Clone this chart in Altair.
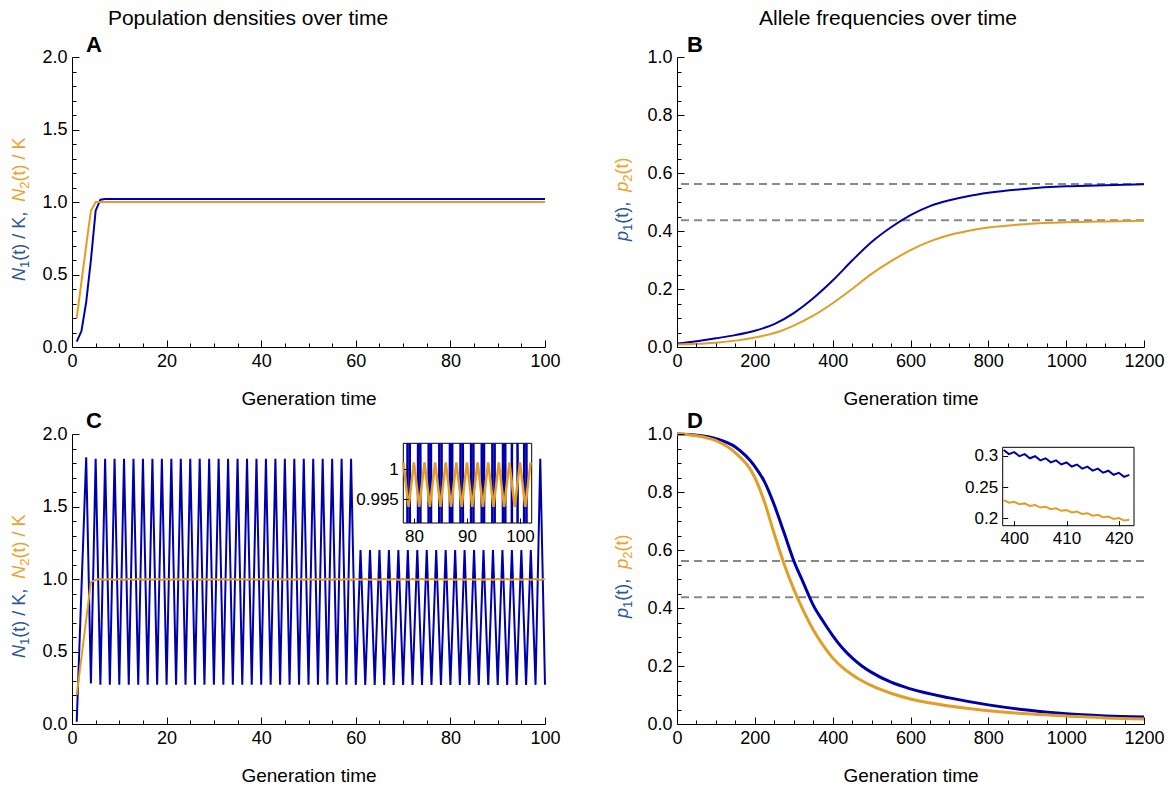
import altair as alt
import pandas as pd

FONT = "Liberation Sans"
BLUE = "#0000AA"
ORANGE = "#E39D25"
BLUE_TXT = "#2B5797"
ORANGE_TXT = "#F0A028"
GRAY = "#888888"

W_L, W_R, H = 473, 467, 290
LAB_FS = 18
AXT_FS = 19
COL_FS = 21
LET_FS = 22
YT_FS = 18

# ---------------- data ----------------
# Panel A: population densities (stable case)
a_t = list(range(1, 101))
a_n1 = [0.037, 0.11, 0.31, 0.6, 0.94, 1.016] + [1.02] * 94
a_n2 = [0.2, 0.45, 0.7, 0.94, 1.0] + [1.0] * 95

# Panel C: population densities (oscillating case)
c_t = list(range(1, 101))
c_n1 = [0.015, 0.93, 1.84, 0.28, 1.83, 0.27, 1.83, 0.27, 1.83, 0.27,
        1.83, 0.27, 1.83, 0.27, 1.83, 0.27, 1.83, 0.27, 1.83, 0.27,
        1.83, 0.27, 1.83, 0.27, 1.83, 0.27, 1.83, 0.27, 1.83, 0.27,
        1.83, 0.27, 1.83, 0.27, 1.83, 0.27, 1.83, 0.27, 1.83, 0.27,
        1.83, 0.27, 1.83, 0.27, 1.83, 0.27, 1.83, 0.27, 1.83, 0.27,
        1.83, 0.27, 1.83, 0.27, 1.83, 0.27, 1.83, 0.27, 1.83, 0.27,
        1.2, 0.27, 1.2, 0.27, 1.2, 0.27, 1.2, 0.27, 1.2, 0.27,
        1.2, 0.27, 1.2, 0.27, 1.2, 0.27, 1.2, 0.27, 1.2, 0.27,
        1.2, 0.27, 1.2, 0.27, 1.2, 0.27, 1.2, 0.27, 1.2, 0.27,
        1.2, 0.27, 1.2, 0.27, 1.2, 0.27, 1.2, 0.27, 1.83, 0.27]
c_n2 = [0.2, 0.46, 0.72, 0.98, 0.9937, 1.0011, 0.9937, 1.0011, 0.9937, 1.0011,
        0.9937, 1.0011, 0.9937, 1.0011, 0.9937, 1.0011, 0.9937, 1.0011, 0.9937, 1.0011,
        0.9937, 1.0011, 0.9937, 1.0011, 0.9937, 1.0011, 0.9937, 1.0011, 0.9937, 1.0011,
        0.9937, 1.0011, 0.9937, 1.0011, 0.9937, 1.0011, 0.9937, 1.0011, 0.9937, 1.0011,
        0.9937, 1.0011, 0.9937, 1.0011, 0.9937, 1.0011, 0.9937, 1.0011, 0.9937, 1.0011,
        0.9937, 1.0011, 0.9937, 1.0011, 0.9937, 1.0011, 0.9937, 1.0011, 0.9937, 1.0011,
        0.9937, 1.0011, 0.9937, 1.0011, 0.9937, 1.0011, 0.9937, 1.0011, 0.9937, 1.0011,
        0.9937, 1.0011, 0.9937, 1.0011, 0.9937, 1.0011, 0.9937, 1.0011, 0.9937, 1.0011,
        0.9937, 1.0011, 0.9937, 1.0011, 0.9937, 1.0011, 0.9937, 1.0011, 0.9937, 1.0011,
        0.9937, 1.0011, 0.9937, 1.0011, 0.9937, 1.0011, 0.9937, 1.0011, 0.9937, 1.0011]

# Inset of panel C
ci_t1 = list(range(77, 104))
ci_n1 = [1.2, 0.27, 1.2, 0.27, 1.2, 0.27, 1.2, 0.27, 1.2, 0.27,
         1.2, 0.27, 1.2, 0.27, 1.2, 0.27, 1.2, 0.27, 1.2, 0.27,
         1.2, 0.27, 1.83, 0.27, 1.2, 0.27, 1.2]
ci_t2 = list(range(78, 103))
ci_n2 = [1.0011, 0.9937, 1.0011, 0.9937, 1.0011, 0.9937, 1.0011, 0.9937, 1.0011, 0.9937,
         1.0011, 0.9937, 1.0011, 0.9937, 1.0011, 0.9937, 1.0011, 0.9937, 1.0011, 0.9937,
         1.0011, 0.9937, 1.0011, 0.9937, 1.0011]
ci_xdom = [78.0, 102.2]
ci_ydom = [0.991, 1.0043]

# Panel B: allele frequencies
b_t = [0, 50, 100, 150, 200, 250, 300, 350, 400, 450, 500, 550, 600, 650, 700,
       750, 800, 900, 1000, 1100, 1200]
b_p1 = [0.012, 0.02, 0.03, 0.041, 0.056, 0.079, 0.117, 0.168, 0.229, 0.298, 0.362,
        0.413, 0.455, 0.486, 0.506, 0.521, 0.532, 0.546, 0.554, 0.558, 0.561]
b_p2 = [0.009, 0.011, 0.015, 0.022, 0.033, 0.048, 0.074, 0.108, 0.151, 0.2, 0.252,
        0.296, 0.334, 0.364, 0.386, 0.401, 0.412, 0.424, 0.43, 0.433, 0.435]
eq_levels = [0.5625, 0.4375]

# Panel D: allele frequencies
d_t = [0, 50, 100, 150, 200, 225, 250, 275, 300, 325, 350, 375, 400, 425, 450, 475,
       500, 550, 600, 700, 800, 900, 1000, 1100, 1200]
d_p1 = [1.0, 0.996, 0.984, 0.955, 0.888, 0.835, 0.755, 0.66, 0.563, 0.486, 0.41,
        0.355, 0.305, 0.262, 0.228, 0.2, 0.178, 0.144, 0.121, 0.09, 0.066, 0.048,
        0.035, 0.028, 0.024]
d_p2 = [1.0, 0.994, 0.977, 0.935, 0.85, 0.765, 0.655, 0.553, 0.465, 0.39, 0.325,
        0.272, 0.228, 0.195, 0.17, 0.149, 0.132, 0.106, 0.086, 0.062, 0.046, 0.035,
        0.028, 0.021, 0.017]

# Inset of panel D
di_t = list(range(398, 423))
di_p1 = [0.309, 0.3025, 0.3057, 0.2992, 0.3024, 0.2959, 0.2991, 0.2926, 0.2958, 0.2893,
         0.2925, 0.286, 0.2892, 0.2827, 0.2859, 0.2794, 0.2826, 0.2761, 0.2793, 0.2728,
         0.276, 0.2695, 0.2727, 0.2662, 0.2694]
di_p2 = [0.229, 0.225, 0.2264, 0.2224, 0.2238, 0.2198, 0.2212, 0.2172, 0.2186, 0.2146,
         0.216, 0.212, 0.2134, 0.2094, 0.2108, 0.2068, 0.2082, 0.2042, 0.2056, 0.2016,
         0.203, 0.199, 0.2004, 0.1964, 0.1978]
di_xdom = [397.8, 422.9]
di_ydom = [0.1882, 0.3134]

# ---------------- helpers ----------------
DUMMY = pd.DataFrame({"d": [0]})


def df(t, v):
    return pd.DataFrame({"t": t, "v": v})


def sc(dom, rng=None):
    if rng is None:
        return alt.Scale(domain=dom, nice=False, zero=False)
    return alt.Scale(domain=dom, range=rng, nice=False, zero=False)


def label_axis(orient, values, fmt, title=None, offset=0, z=0, domain=True, fs=LAB_FS):
    kw = dict(orient=orient, values=values, format=fmt, ticks=False, domain=domain,
              domainColor="black", domainWidth=1, labelFont=FONT, labelFontSize=fs,
              labelColor="black", labelPadding=5, labelFlush=False, labelOverlap=False,
              grid=False, offset=offset, zindex=z)
    if title:
        kw.update(title=title, titleFont=FONT, titleFontSize=AXT_FS,
                  titleFontWeight="normal", titleColor="black", titlePadding=19)
    else:
        kw["title"] = None
    return alt.Axis(**kw)


def tick_axis(orient, values, size, offset):
    return alt.Axis(orient=orient, values=values, labels=False, domain=False, ticks=True,
                    tickSize=size, tickColor="black", tickWidth=1, grid=False,
                    title=None, offset=offset, zindex=1)


def txt(text, x, y, size, color="black", align="left", angle=0, style="normal",
        weight="normal", baseline="alphabetic"):
    return alt.Chart(DUMMY).mark_text(
        text=text, align=align, baseline=baseline, angle=angle, font=FONT,
        fontSize=size, fontStyle=style, fontWeight=weight, color=color
    ).encode(x=alt.value(x), y=alt.value(y))


CW = {"N": 0.722, "p": 0.556, "(": 0.333, ")": 0.333, "t": 0.278, " ": 0.278,
      "/": 0.278, "K": 0.667, ",": 0.278, "1": 0.556, "2": 0.556}


def tw(s, fs):
    return sum(CW[c] for c in s) * fs


def ytitle(pieces, xb, ybottom, fs=YT_FS):
    out = []
    y = ybottom
    for text, color, kind in pieces:
        if kind == "it":
            size, style, dx = fs, "italic", 0
        elif kind == "sub":
            size, style, dx = round(fs * 0.7), "normal", 4
        else:
            size, style, dx = fs, "normal", 0
        out.append(txt(text, xb + dx, y, size, color, angle=270, style=style))
        y -= tw(text, size)
    return out


def line(data, color, width, xs, ys, interp="linear"):
    return alt.Chart(data).mark_line(color=color, strokeWidth=width, interpolate=interp).encode(
        x=alt.X("t:Q", scale=xs, axis=None), y=alt.Y("v:Q", scale=ys, axis=None))


def axis_layers(data, xdom, ydom, xmaj, xmin, ymaj, ymin, xfmt, yfmt, W):
    specs = [
        (label_axis("bottom", xmaj, xfmt, title="Generation time"), label_axis("left", ymaj, yfmt)),
        (tick_axis("top", xmaj, 7, -H), tick_axis("right", ymaj, 7, -W)),
        (tick_axis("top", xmin, 4, -H), tick_axis("right", ymin, 4, -W)),
    ]
    out = []
    for xa, ya in specs:
        out.append(alt.Chart(data).mark_line(opacity=0).encode(
            x=alt.X("t:Q", scale=sc(xdom), axis=xa),
            y=alt.Y("v:Q", scale=sc(ydom), axis=ya)))
    return out


def clip_segments(ts, vs, xlo, xhi, ylo, yhi):
    rows = []
    for i in range(len(ts) - 1):
        x0, y0, x1, y1 = ts[i], vs[i], ts[i + 1], vs[i + 1]
        dx, dy = x1 - x0, y1 - y0
        u0, u1 = 0.0, 1.0
        ok = True
        for p, q in ((-dx, x0 - xlo), (dx, xhi - x0), (-dy, y0 - ylo), (dy, yhi - y0)):
            if p == 0:
                if q < 0:
                    ok = False
                    break
            else:
                r = q / p
                if p < 0:
                    u0 = max(u0, r)
                else:
                    u1 = min(u1, r)
        if ok and u0 < u1:
            rows.append({"x": x0 + u0 * dx, "y": y0 + u0 * dy,
                         "x2": x0 + u1 * dx, "y2": y0 + u1 * dy})
    return pd.DataFrame(rows)


def inset_layers(xdom, ydom, xr, yr, xmaj, ymaj, W):
    xs, ys = sc(xdom, xr), sc(ydom, yr)
    frame = pd.DataFrame({"x0": [xdom[0]], "x1": [xdom[1]], "y0": [ydom[0]], "y1": [ydom[1]]})
    rect = alt.Chart(frame).mark_rect(fill="white", stroke="black", strokeWidth=1).encode(
        x=alt.X("x0:Q", scale=xs,
                axis=label_axis("bottom", xmaj, "d", offset=yr[0] - H, z=1, domain=False, fs=17)),
        x2="x1:Q",
        y=alt.Y("y0:Q", scale=ys,
                axis=label_axis("left", ymaj, "~g", offset=-xr[0], z=1, domain=False, fs=17)),
        y2="y1:Q")
    ticks = alt.Chart(frame).mark_rect(opacity=0).encode(
        x=alt.X("x0:Q", scale=xs, axis=tick_axis("top", xmaj, 5, -yr[0])),
        x2="x1:Q",
        y=alt.Y("y0:Q", scale=ys, axis=tick_axis("right", ymaj, 5, xr[0] - W)),
        y2="y1:Q")
    return rect, ticks, xs, ys


def panel(layers, W):
    return alt.layer(*layers).resolve_scale(x="independent", y="independent").properties(
        width=W, height=H)


N_TITLE = [("N", BLUE_TXT, "it"), ("1", BLUE_TXT, "sub"), ("(t) / K,  ", BLUE_TXT, "reg"),
           ("N", ORANGE_TXT, "it"), ("2", ORANGE_TXT, "sub"), ("(t) / K", ORANGE_TXT, "reg")]
P_TITLE = [("p", BLUE_TXT, "it"), ("1", BLUE_TXT, "sub"), ("(t),  ", BLUE_TXT, "reg"),
           ("p", ORANGE_TXT, "it"), ("2", ORANGE_TXT, "sub"), ("(t)", ORANGE_TXT, "reg")]

# tick values
xA_maj = [0, 20, 40, 60, 80, 100]
xA_min = [v for v in range(0, 101, 5) if v % 20]
yA_maj = [0, 0.5, 1.0, 1.5, 2.0]
yA_min = [round(v * 0.1, 2) for v in range(0, 21) if v % 5]
xB_maj = [0, 200, 400, 600, 800, 1000, 1200]
xB_min = [v for v in range(0, 1201, 50) if v % 200]
yB_maj = [0, 0.2, 0.4, 0.6, 0.8, 1.0]
yB_min = [round(v * 0.05, 2) for v in range(0, 21) if v % 4]

# ---------------- panel A ----------------
xsA, ysA = sc([0, 100]), sc([0, 2])
A = panel([
    line(df(a_t, a_n1), BLUE, 2, xsA, ysA),
    line(df(a_t, a_n2), ORANGE, 2, xsA, ysA),
    *axis_layers(df(a_t, a_n1), [0, 100], [0, 2], xA_maj, xA_min, yA_maj, yA_min, "d", ".1f", W_L),
    txt("A", 14, -5, LET_FS, weight="bold"),
    txt("Population densities over time", 176, -32, COL_FS, align="center"),
    *ytitle(N_TITLE, -47, 224),
], W_L)

# ---------------- panel B ----------------
xsB, ysB = sc([0, 1200]), sc([0, 1])
B = panel([
    alt.Chart(pd.DataFrame({"lvl": eq_levels})).mark_rule(
        color=GRAY, strokeWidth=2, strokeDash=[8, 5]).encode(
        y=alt.Y("lvl:Q", scale=ysB, axis=None)),
    line(df(b_t, b_p1), BLUE, 2, xsB, ysB, "monotone"),
    line(df(b_t, b_p2), ORANGE, 2, xsB, ysB, "monotone"),
    *axis_layers(df(b_t, b_p1), [0, 1200], [0, 1], xB_maj, xB_min, yB_maj, yB_min, "d", ".1f", W_R),
    txt("B", 10, -5, LET_FS, weight="bold"),
    txt("Allele frequencies over time", 211, -32, COL_FS, align="center"),
    *ytitle(P_TITLE, -49, 184),
], W_R)

# ---------------- panel C ----------------
xsC, ysC = sc([0, 100]), sc([0, 2])
ci_xr, ci_yr = [331.3, 459.7], [89.0, 9.3]
rectC, ticksC, xsCi, ysCi = inset_layers(ci_xdom, ci_ydom, ci_xr, ci_yr, [80, 90, 100], [0.995, 1.0], W_L)
segC = clip_segments(ci_t1, ci_n1, ci_xdom[0], ci_xdom[1], ci_ydom[0], ci_ydom[1])
C = panel([
    line(df(c_t, c_n1), BLUE, 2, xsC, ysC),
    line(df(c_t, c_n2), ORANGE, 2, xsC, ysC),
    *axis_layers(df(c_t, c_n1), [0, 100], [0, 2], xA_maj, xA_min, yA_maj, yA_min, "d", ".1f", W_L),
    rectC,
    alt.Chart(segC).mark_rule(color=BLUE, strokeWidth=2.5).encode(
        x=alt.X("x:Q", scale=xsCi, axis=None), x2="x2:Q",
        y=alt.Y("y:Q", scale=ysCi, axis=None), y2="y2:Q"),
    line(df(ci_t2, ci_n2), ORANGE, 2.5, xsCi, ysCi),
    ticksC,
    txt("C", 14, -6, LET_FS, weight="bold"),
    *ytitle(N_TITLE, -47, 224),
], W_L)

# ---------------- panel D ----------------
xsD, ysD = sc([0, 1200]), sc([0, 1])
di_xr, di_yr = [325.7, 457.0], [91.7, 13.3]
rectD, ticksD, xsDi, ysDi = inset_layers(di_xdom, di_ydom, di_xr, di_yr, [400, 410, 420], [0.2, 0.25, 0.3], W_R)
D = panel([
    alt.Chart(pd.DataFrame({"lvl": eq_levels})).mark_rule(
        color=GRAY, strokeWidth=2, strokeDash=[8, 5]).encode(
        y=alt.Y("lvl:Q", scale=ysD, axis=None)),
    line(df(d_t, d_p1), BLUE, 3, xsD, ysD, "monotone"),
    line(df(d_t, d_p2), ORANGE, 3, xsD, ysD, "monotone"),
    *axis_layers(df(d_t, d_p1), [0, 1200], [0, 1], xB_maj, xB_min, yB_maj, yB_min, "d", ".1f", W_R),
    rectD,
    line(df(di_t, di_p1), BLUE, 2, xsDi, ysDi),
    line(df(di_t, di_p2), ORANGE, 2, xsDi, ysDi),
    ticksD,
    txt("D", 10, -6, LET_FS, weight="bold"),
    *ytitle(P_TITLE, -49, 184),
], W_R)

chart = alt.concat(
    A, B, C, D, columns=2, bounds="flush",
    spacing={"row": 87, "column": 132}
).properties(
    padding={"left": 2, "top": 0, "right": 0, "bottom": 0}
).configure_view(stroke=None).configure_axis(grid=False)

chart.save("out.html", embed_options={"renderer": "svg", "actions": False})
